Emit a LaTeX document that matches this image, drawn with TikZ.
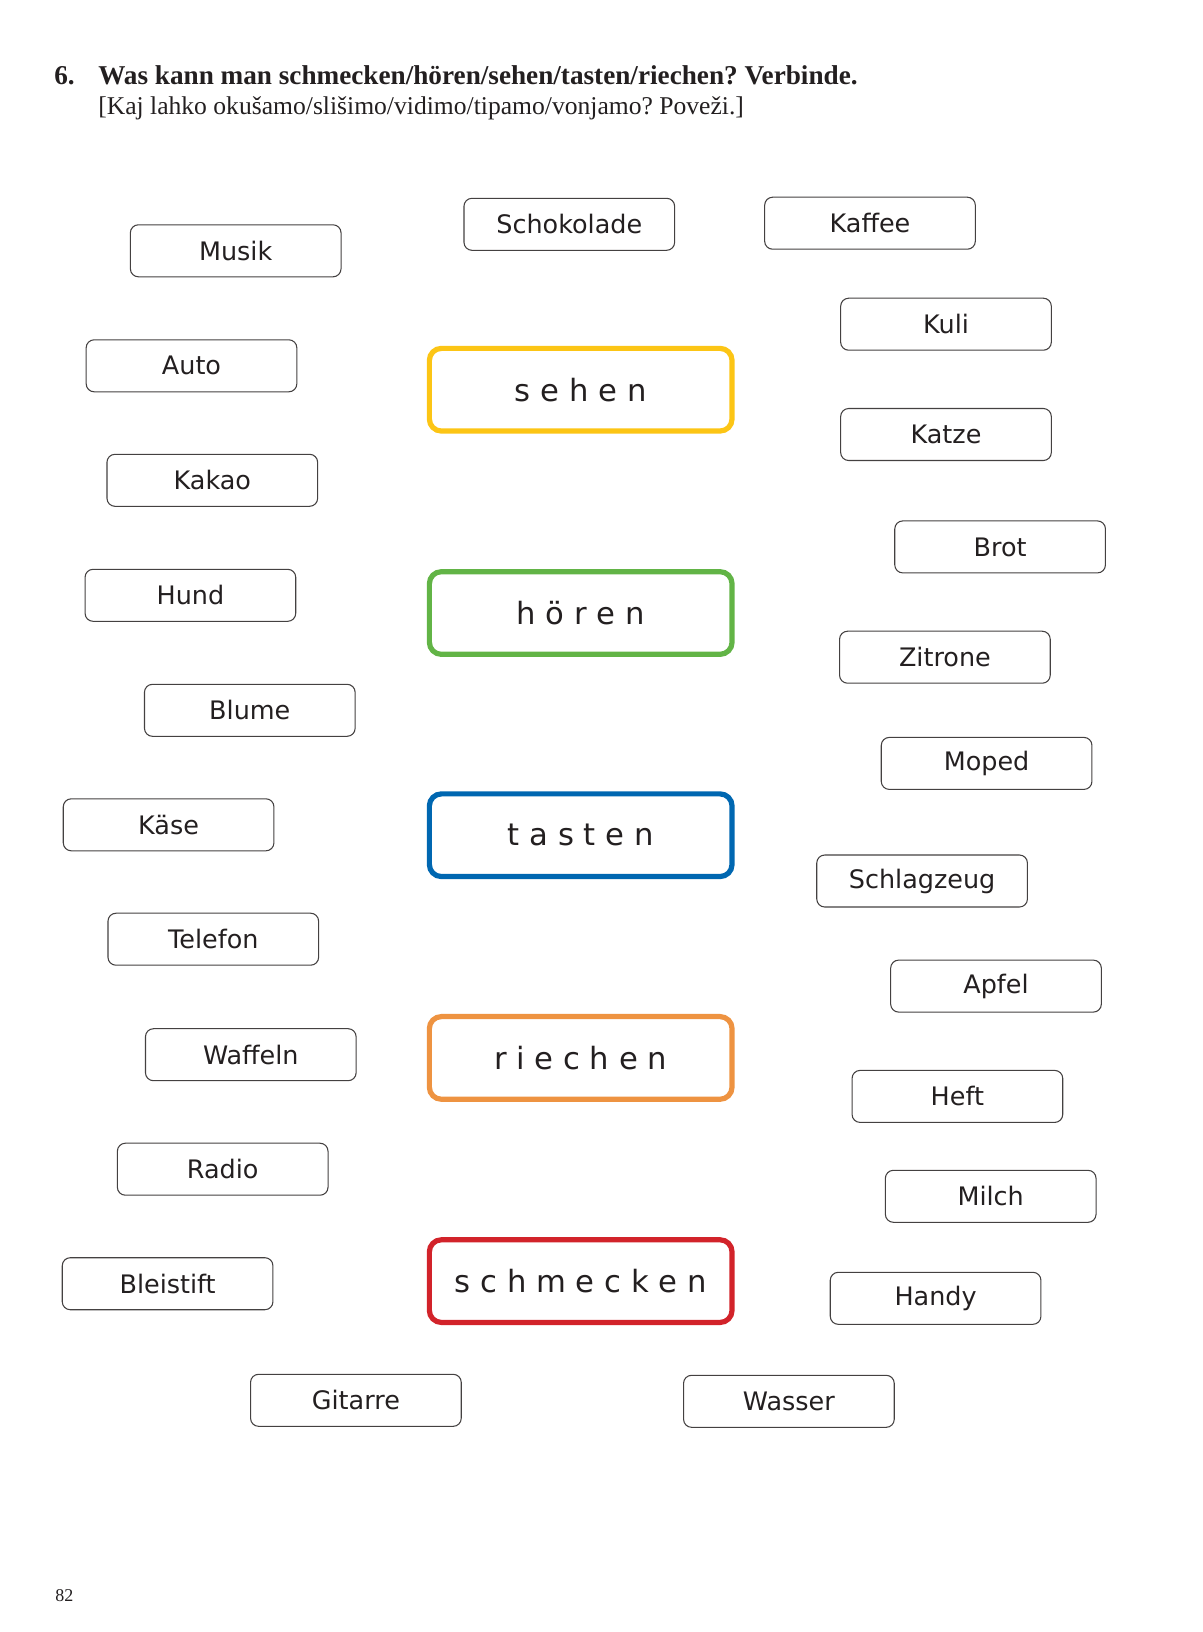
\documentclass[tikz,border=0pt]{standalone}
\usepackage{fontspec}
\setmainfont{Liberation Serif}
\newfontfamily\boxfont{DejaVu Sans}
\definecolor{ink}{HTML}{231F20}
\definecolor{cyellow}{HTML}{FCC515}
\definecolor{cgreen}{HTML}{62B446}
\definecolor{cblue}{HTML}{0067B1}
\definecolor{corange}{HTML}{EE9341}
\definecolor{cred}{HTML}{D2232A}
\begin{document}
\frenchspacing
\begin{tikzpicture}[x=0.75pt,y=-0.75pt,
  item/.style={draw=ink!85,line width=0.8pt,rounded corners=6pt,minimum width=158pt,minimum height=39pt,inner sep=0pt,font=\boxfont\fontsize{19.1pt}{20pt}\selectfont,text=ink},
  verb/.style={line width=3.9pt,rounded corners=9pt,minimum width=227pt,minimum height=62pt,inner sep=0pt,font=\boxfont\fontsize{23pt}{24pt}\selectfont,text=ink},
  txt/.style={anchor=base west,inner sep=0pt,text=ink}]
\useasboundingbox (0,0) rectangle (1203,1632);
% title
\node[txt,font=\bfseries\fontsize{20.4pt}{22pt}\selectfont] (num) at (54,84) {6.};
\node[txt,font=\bfseries\fontsize{20.4pt}{22pt}\selectfont] (title) at (98,84) {Was kann man schmecken/hören/sehen/tasten/riechen? Verbinde.};
\node[txt,font=\fontsize{19.2pt}{22pt}\selectfont] (sub) at (98,114) {[Kaj lahko okušamo/slišimo/vidimo/tipamo/vonjamo? Poveži.]};
\node[txt,font=\fontsize{13.5pt}{15pt}\selectfont] (page) at (55,1601) {82};
% left items
\node[item] (musik) at (235.7,250.8) {Musik};
\node[item] (auto) at (191.5,365.8) {Auto};
\node[item] (kakao) at (212.3,480.3) {Kakao};
\node[item] (hund) at (190.4,595.3) {Hund};
\node[item] (blume) at (249.8,710.3) {Blume};
\node[item] (kaese) at (168.6,824.8) {Käse};
\node[item] (telefon) at (213.3,939.2) {Telefon};
\node[item] (waffeln) at (250.8,1054.7) {Waffeln};
\node[item] (radio) at (222.7,1169.2) {Radio};
\node[item] (bleistift) at (167.6,1283.7) {Bleistift};
\node[item] (gitarre) at (355.9,1400.3) {Gitarre};
% middle items
\node[item] (schoko) at (569.3,224.3) {Schokolade};
\node[item] (wasser) at (788.9,1401.3) {Wasser};
% right items
\node[item] (kaffee) at (870.0,223.2) {Kaffee};
\node[item] (kuli) at (946.0,324.2) {Kuli};
\node[item] (katze) at (946.0,434.5) {Katze};
\node[item] (brot) at (1000.1,546.9) {Brot};
\node[item] (zitrone) at (944.9,657.2) {Zitrone};
\node[item] (moped) at (986.6,763.4) {Moped};
\node[item] (schlag) at (922.1,881.0) {Schlagzeug};
\node[item] (apfel) at (996.0,986.1) {Apfel};
\node[item] (heft) at (957.4,1096.4) {Heft};
\node[item] (milch) at (990.7,1196.3) {Milch};
\node[item] (handy) at (935.6,1298.3) {Handy};
% verbs
\node[verb,draw=cyellow] (sehen) at (580.7,389.7) {s e h e n};
\node[verb,draw=cgreen] (hoeren) at (580.7,613.0) {h ö r e n};
\node[verb,draw=cblue] (tasten) at (580.7,835.2) {t a s t e n};
\node[verb,draw=corange] (riechen) at (580.7,1057.9) {r i e c h e n};
\node[verb,draw=cred] (schmecken) at (580.7,1281.1) {s c h m e c k e n};
\end{tikzpicture}
\end{document}
